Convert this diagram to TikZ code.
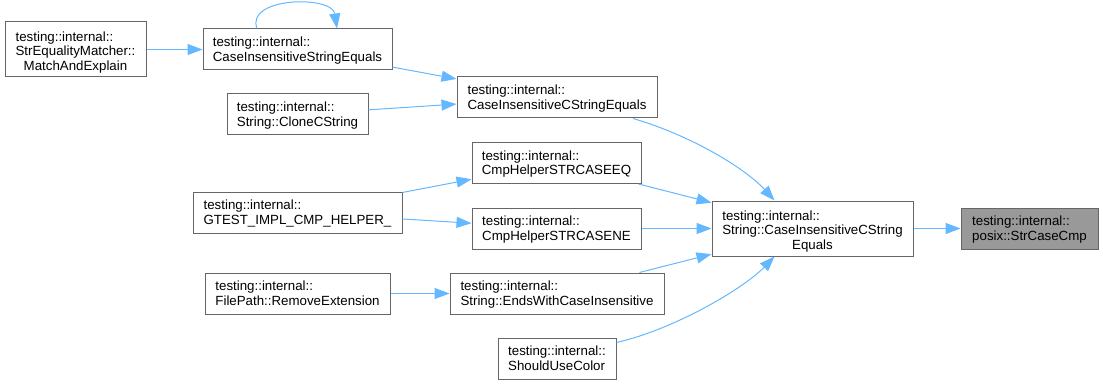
\documentclass[tikz,border=0pt]{standalone}
\usepackage{fontspec}
\setmainfont{Liberation Sans}
\usetikzlibrary{arrows.meta,calc}
\definecolor{edgeblue}{HTML}{63B8FF}
\definecolor{boxgray}{HTML}{666666}
\definecolor{focusfill}{HTML}{999999}

% two-line function label, both lines flush left
\newcommand{\fnlabel}[2]{\begin{tabular}{@{}l@{}}\rule{0pt}{13.5pt}#1\\#2\end{tabular}}
% three-line function label, last line centred
\newcommand{\fnlabelc}[3]{\begin{tabular}{@{}l@{}}\rule{0pt}{17pt}#1\\#2\\\multicolumn{1}{@{}c@{}}{#3}\end{tabular}}

\begin{document}
\begin{tikzpicture}[x=1pt,y=-1pt,
  fn/.style={draw=boxgray, line width=1pt, fill=white, inner sep=0pt,
             font=\fontsize{13.3}{14.5}\selectfont},
  focus/.style={fn, fill=focusfill},
  call/.style={draw=edgeblue, line width=1pt, -{Triangle[length=15pt,width=11pt]}},
]
\useasboundingbox (0,0) rectangle (1103,385);

% functions
\node[fn, minimum width=141pt, minimum height=55pt] (mae)   at (75.5,49.5)
  {\fnlabelc{testing::internal::}{StrEqualityMatcher::}{MatchAndExplain}};
\node[fn, minimum width=189pt, minimum height=41pt] (cise)  at (297.5,49.5)
  {\fnlabel{testing::internal::}{CaseInsensitiveStringEquals}};
\node[fn, minimum width=141pt, minimum height=41pt] (clone) at (297.5,114.5)
  {\fnlabel{testing::internal::}{String::CloneCString}};
\node[fn, minimum width=209pt, minimum height=41pt] (gtest) at (297.5,212.5)
  {\fnlabel{testing::internal::}{GTEST\_IMPL\_CMP\_HELPER\_}};
\node[fn, minimum width=185pt, minimum height=41pt] (rem)   at (297.5,293.5)
  {\fnlabel{testing::internal::}{FilePath::RemoveExtension}};

\node[fn, minimum width=200pt, minimum height=41pt] (cicse) at (557,97.5)
  {\fnlabel{testing::internal::}{CaseInsensitiveCStringEquals}};
\node[fn, minimum width=169pt, minimum height=41pt] (eq)    at (556.5,163)
  {\fnlabel{testing::internal::}{CmpHelperSTRCASEEQ}};
\node[fn, minimum width=169pt, minimum height=41pt] (ne)    at (556.5,228.5)
  {\fnlabel{testing::internal::}{CmpHelperSTRCASENE}};
\node[fn, minimum width=214pt, minimum height=41pt] (ends)  at (557,293.5)
  {\fnlabel{testing::internal::}{String::EndsWithCaseInsensitive}};
\node[fn, minimum width=118pt, minimum height=41pt] (color) at (557,358.5)
  {\fnlabel{testing::internal::}{ShouldUseColor}};

\node[fn, minimum width=201pt, minimum height=55pt] (sicse) at (812.5,228.5)
  {\fnlabelc{testing::internal::}{String::CaseInsensitiveCString}{Equals}};
\node[focus, minimum width=137pt, minimum height=41pt] (cmp) at (1029.5,228.5)
  {\fnlabel{testing::internal::}{posix::StrCaseCmp}};

% calls
\draw[call] (mae) -- (cise);
\draw[call] ($(cise.north)+(-40.5,0)$) .. controls (245,-3) and (332,-5) .. ($(cise.north)+(39.5,0)$);
\draw[call] (cise) -- (cicse);
\draw[call] (clone) -- (cicse);
\draw[call] (gtest) -- (eq);
\draw[call] (gtest) -- (ne);
\draw[call] (rem) -- (ends);
\draw[call] ($(cicse.south)+(76,0)$) .. controls (690,135) and (745,168) .. ($(sicse.north)+(-38,0)$);
\draw[call] (eq) -- (sicse);
\draw[call] (ne) -- (sicse);
\draw[call] (ends) -- (sicse);
\draw[call] ($(color.north east)+(0,5)$) .. controls (672,330) and (742,290) .. ($(sicse.south)+(-38,0)$);
\draw[call] (sicse) -- (cmp);
\end{tikzpicture}
\end{document}
